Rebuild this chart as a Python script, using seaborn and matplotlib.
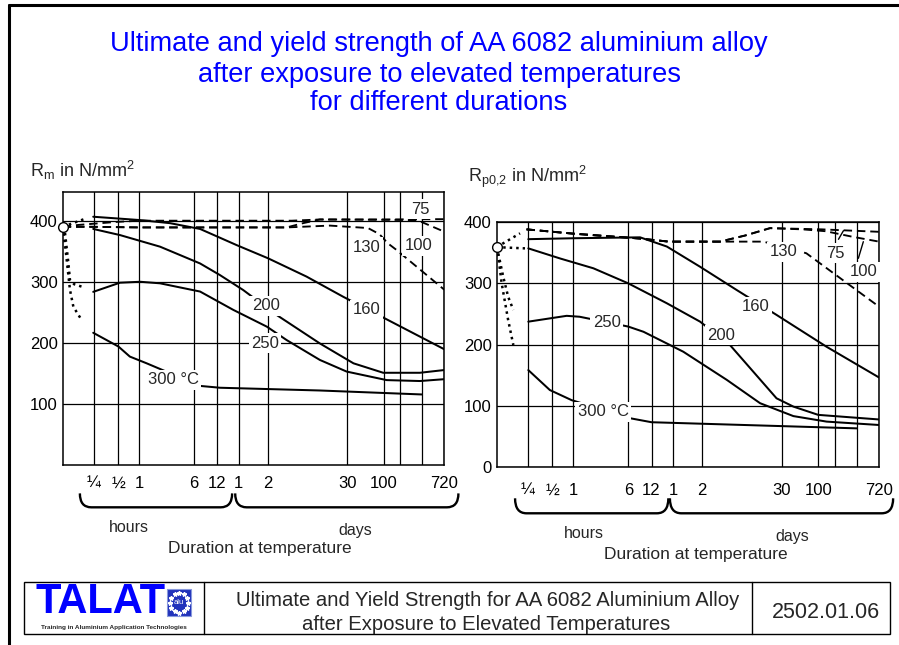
import numpy as np
import pandas as pd
import matplotlib
matplotlib.use("Agg")
import matplotlib.pyplot as plt
import seaborn as sns
from matplotlib.path import Path
from matplotlib.patches import PathPatch, Rectangle
from matplotlib.lines import Line2D
from matplotlib.transforms import blended_transform_factory

# ---------------------------------------------------------------------------
# Duration axis: positions of the grid lines (0 = start of exposure, 100 = 720 days)
TICK_POS = [8.1, 14.55, 20.05, 34.45, 40.5, 46.1, 53.7, 74.6, 84.15, 88.4, 94.2, 100]
TICK_LABELS = ["\u00bc", "\u00bd", "1", "6", "12", "1", "2", "30", "100", "", "", "720"]

# ---------------------------------------------------------------------------
# Ultimate strength Rm (N/mm2)
RM_START = 390

RM_75_POS = [0, 4, 8, 14, 20, 40, 60, 67.4, 85, 93.6, 100]
RM_75 = [390, 393, 395, 398, 400, 400, 400, 402, 402, 402.5, 402.5]
RM_100_POS = [0, 8, 20, 36, 58.7, 63, 67.4, 85, 92, 94, 100]
RM_100 = [390, 390, 389, 389, 389, 396, 402, 401.5, 401, 398, 382]
RM_130_POS = [0, 8, 20, 36, 58.7, 70, 80, 83, 85.2, 87.5, 100]
RM_130 = [390, 390, 389, 389, 389, 392, 388, 378, 363, 352, 287]
RM_160_POS = [8.0, 20.3, 28.1, 36.0, 45.6, 53.8, 63.9, 73.5, 84.9, 100]
RM_160 = [406.5, 401, 396, 386.5, 360, 338.5, 308.5, 275.5, 238.5, 189.5]
RM_200_POS = [8.0, 15.0, 25.5, 36.0, 41.2, 47.3, 56.1, 67.4, 76.2, 84.0, 93.6, 100]
RM_200 = [386.5, 376.5, 357.5, 330, 311, 286.5, 245.5, 199, 166.5, 151, 151, 155.5]
RM_250_POS = [8.0, 15.0, 20.3, 25.5, 36.0, 44.7, 53.5, 58.7, 67.4, 74.4, 84.9, 93.6, 100]
RM_250 = [283.5, 298.5, 300, 297.5, 284, 254, 226.5, 204.5, 172, 153, 139, 137.5, 140.5]
RM_300_POS = [8.0, 14.6, 17.6, 22.0, 36.0, 41.2, 67.4, 94.1]
RM_300 = [216.5, 194, 177.5, 166.5, 129.5, 126.5, 122, 115.5]

# short-time transitions from the initial state
RM_160_EARLY_POS = [0, 5.8]
RM_160_EARLY = [390, 403]
RM_250_EARLY_POS = [0, 0.6, 1.5, 1.9, 3.0, 5.0]
RM_250_EARLY = [390, 380, 330, 303, 296, 292]
RM_300_EARLY_POS = [0, 0.8, 1.9, 2.8, 5.0]
RM_300_EARLY = [390, 350, 287, 259, 237]

# ---------------------------------------------------------------------------
# Yield strength Rp0,2 (N/mm2)
RP_START = 359

RP_75_POS = [7.8, 20, 37.5, 45, 58.4, 65, 71.5, 85, 100]
RP_75 = [388, 381, 373, 368, 368, 378, 390, 388, 384]
RP_100_POS = [7.8, 20, 37.5, 45, 58.4, 65, 71.5, 80, 86, 93, 100]
RP_100 = [388, 381, 373, 368, 368, 378, 390, 388, 385, 376, 368]
RP_130_POS = [7.8, 20, 37.5, 45, 58.4, 69.7, 75, 81, 90.6, 100]
RP_130 = [388, 381, 373, 368, 368, 368, 360, 349, 305, 262]
RP_160_POS = [8.27, 20, 37.5, 44.5, 53.2, 62.8, 73.2, 86.3, 100]
RP_160 = [372, 373.5, 375, 360, 327, 289, 248.5, 196.5, 146.5]
RP_200_POS = [8.27, 16.6, 25.3, 34.4, 44.5, 53.2, 61.0, 73.2, 77.6, 84.1, 100]
RP_200 = [357, 340.5, 324.5, 300, 267.5, 237.5, 199.5, 112.5, 99, 85.5, 78]
RP_250_POS = [8.27, 18.3, 21.7, 34.4, 38.4, 48.8, 60.2, 68.9, 77.6, 86.3, 100]
RP_250 = [237.5, 247, 245.5, 229.5, 221, 188.5, 142.5, 104.5, 83.5, 74.5, 69]
RP_300_POS = [8.27, 13.9, 19.6, 34.9, 40.5, 94.2]
RP_300 = [158.5, 126, 109.5, 80, 73.5, 63.5]

RP_75_EARLY_POS = [0, 6.1]
RP_75_EARLY = [359, 381.5]
RP_200_EARLY_POS = [0, 7.4]
RP_200_EARLY = [359, 357]
RP_250_EARLY_POS = [0, 0.4, 1.7, 3.0, 4.35]
RP_250_EARLY = [359, 349, 311, 278, 256.5]
RP_300_EARLY_POS = [0, 0.5, 1.3, 3.0, 4.35]
RP_300_EARLY = [359, 340, 300, 240, 199.5]

# ---------------------------------------------------------------------------
sns.set_style("white")
plt.rcParams["font.family"] = ["Liberation Sans", "DejaVu Sans"]
plt.rcParams["mathtext.fontset"] = "custom"
plt.rcParams["mathtext.rm"] = "Liberation Sans"

W, H = 899, 645
fig = plt.figure(figsize=(W / 100, H / 100), dpi=100)


def fx(px):
    return px / W


def fy(py):
    return 1 - py / H


BLUE = "#0000ff"
SOLID = dict(linestyle="-", linewidth=1.45)
DASHED = dict(linestyle=(0, (4.5, 2.6)), linewidth=1.35)
DOTTED = dict(linestyle=(0, (1, 1.6)), linewidth=1.8)


def curve(ax, pos, vals, style):
    df = pd.DataFrame({"pos": pos, "val": vals})
    sns.lineplot(data=df, x="pos", y="val", ax=ax, color="black", sort=False,
                 estimator=None, legend=False, zorder=3, **style)


def label(ax, x, y, s):
    ax.text(x, y, s, ha="center", va="center", fontsize=12, zorder=5,
            bbox=dict(boxstyle="square,pad=0.15", fc="white", ec="none"))


def brace(ax, x0, x1, ytop, ybot, r=3.0):
    tr = blended_transform_factory(ax.transData, ax.transAxes)
    verts = [(x0, ytop), (x0, ybot), (x0 + r, ybot), (x1 - r, ybot),
             (x1, ybot), (x1, ytop)]
    codes = [Path.MOVETO, Path.CURVE3, Path.CURVE3, Path.LINETO,
             Path.CURVE3, Path.CURVE3]
    ax.add_patch(PathPatch(Path(verts, codes), transform=tr, fill=False,
                           lw=1.7, color="black", clip_on=False))


def setup(ax, ymax, yticks, xpad):
    ax.set_xlim(0, 100)
    ax.set_ylim(0, ymax)
    ax.set_xticks(TICK_POS)
    ax.set_xticklabels(TICK_LABELS)
    ax.set_yticks(yticks)
    ax.set_yticklabels([str(v) for v in yticks])
    ax.tick_params(axis="both", length=0, labelsize=12, colors="black")
    ax.tick_params(axis="x", pad=xpad)
    ax.tick_params(axis="y", pad=3.5)
    ax.grid(True, color="black", linewidth=0.9)
    ax.set_axisbelow(True)
    for sp in ax.spines.values():
        sp.set_color("black")
        sp.set_linewidth(1.1)
    ax.set_xlabel("")
    ax.set_ylabel("")


# ---------------------------------------------------------------------------
# Left panel: Rm
ax1 = fig.add_axes([fx(62.7), fy(465), 381.6 / W, 273 / H])
for pos, vals in [(RM_75_POS, RM_75), (RM_100_POS, RM_100), (RM_130_POS, RM_130)]:
    curve(ax1, pos, vals, DASHED)
for pos, vals in [(RM_160_POS, RM_160), (RM_200_POS, RM_200),
                  (RM_250_POS, RM_250), (RM_300_POS, RM_300)]:
    curve(ax1, pos, vals, SOLID)
for pos, vals in [(RM_160_EARLY_POS, RM_160_EARLY), (RM_250_EARLY_POS, RM_250_EARLY),
                  (RM_300_EARLY_POS, RM_300_EARLY)]:
    curve(ax1, pos, vals, DOTTED)
ax1.plot([0], [RM_START], marker="o", ms=7, mfc="white", mec="black", mew=1.0,
         clip_on=False, zorder=6)
setup(ax1, 447, [100, 200, 300, 400], 8)
for s, x, y in [("75", 93.6, 418.7), ("130", 79.7, 356.4), ("100", 93.2, 358.6),
                ("200", 53.2, 260.9), ("160", 79.7, 253.8), ("250", 53.0, 199.2),
                ("300 \u00b0C", 29.0, 139.2)]:
    label(ax1, x, y, s)
brace(ax1, 4.5, 44.4, -0.104, -0.155)
brace(ax1, 45.2, 103.7, -0.104, -0.155)

# ---------------------------------------------------------------------------
# Right panel: Rp0,2
ax2 = fig.add_axes([fx(496.7), fy(467.3), 382.3 / W, 245.3 / H])
for pos, vals in [(RP_75_POS, RP_75), (RP_100_POS, RP_100), (RP_130_POS, RP_130)]:
    curve(ax2, pos, vals, DASHED)
for pos, vals in [(RP_160_POS, RP_160), (RP_200_POS, RP_200),
                  (RP_250_POS, RP_250), (RP_300_POS, RP_300)]:
    curve(ax2, pos, vals, SOLID)
for pos, vals in [(RP_75_EARLY_POS, RP_75_EARLY), (RP_200_EARLY_POS, RP_200_EARLY),
                  (RP_250_EARLY_POS, RP_250_EARLY), (RP_300_EARLY_POS, RP_300_EARLY)]:
    curve(ax2, pos, vals, DOTTED)
ax2.plot([0], [RP_START], marker="o", ms=7, mfc="white", mec="black", mew=1.0,
         clip_on=False, zorder=6)
setup(ax2, 400, [0, 100, 200, 300, 400], 11)
for s, x, y in [("130", 75.0, 351.6), ("75", 88.5, 349.0), ("100", 95.9, 319.0),
                ("160", 67.6, 261.9), ("250", 28.8, 235.8), ("200", 58.8, 215.7),
                ("300 \u00b0C", 27.9, 90.7)]:
    label(ax2, x, y, s)
# leader ticks from the 75 and 100 labels to their curves
ax2.plot([89.4, 90.7], [371.8, 385.8], color="black", lw=1.0, zorder=4)
ax2.plot([94.6, 95.9], [340.8, 367.9], color="black", lw=1.0, zorder=4)
brace(ax2, 4.8, 44.9, -0.1264, -0.1875)
brace(ax2, 45.3, 103.7, -0.1264, -0.1875)

# ---------------------------------------------------------------------------
# Axis captions
fig.text(fx(30), fy(177), r"R$_{\mathregular{m}}$ in N/mm$^{\mathregular{2}}$",
         fontsize=13, ha="left", va="baseline")
fig.text(fx(468), fy(182), r"R$_{\mathregular{p0{,}2}}$ in N/mm$^{\mathregular{2}}$",
         fontsize=13, ha="left", va="baseline")
for (x, y, s, fs) in [(129, 528, "hours", 11.5), (355, 530, "days", 11.5),
                      (260, 548, "Duration at temperature", 12.5),
                      (584, 534, "hours", 11.5), (792, 537, "days", 11.5),
                      (696, 554, "Duration at temperature", 12.5)]:
    fig.text(fx(x), fy(y), s, fontsize=fs, ha="center", va="center")

# Title
for y, s in [(44, "Ultimate and yield strength of AA 6082 aluminium alloy"),
             (75, "after exposure to elevated temperatures"),
             (103, "for different durations")]:
    fig.text(fx(439), fy(y), s, fontsize=19.6, color=BLUE, ha="center", va="center")

# Page frame (top and left edges)
fig.add_artist(Line2D([fx(9), fx(9)], [fy(5), fy(645)], color="black", lw=2.2))
fig.add_artist(Line2D([fx(9), fx(899)], [fy(5), fy(5)], color="black", lw=2.2))

# Footer block
fig.add_artist(Rectangle((fx(24), fy(634)), (890 - 24) / W, (634 - 582) / H,
                         fill=False, ec="black", lw=1.0))
for xd in (204, 752):
    fig.add_artist(Line2D([fx(xd), fx(xd)], [fy(582), fy(634)], color="black", lw=1.0))
fig.text(fx(35), fy(602), "TALAT", fontsize=30, fontweight="bold", color=BLUE,
         ha="left", va="center")
fig.add_artist(Rectangle((fx(167), fy(616)), 24 / W, 27 / H, fc="#2233bb",
                         ec="#8899dd", lw=0.8))
ang = np.linspace(0, 2 * np.pi, 12, endpoint=False)
fig.add_artist(Line2D(fx(179 + 9 * np.cos(ang)), fy(602.5 + 10 * np.sin(ang)),
                      linestyle="none", marker="*", ms=3.2, mfc="white", mec="white"))
fig.text(fx(179), fy(603), "alu", fontsize=5.5, color="white", ha="center", va="center")
fig.text(fx(114), fy(627.5), "Training in Aluminium Application Technologies",
         fontsize=4.6, fontweight="bold", ha="center", va="center")
fig.text(fx(488), fy(601), "Ultimate and Yield Strength for AA 6082 Aluminium Alloy",
         fontsize=14.6, ha="center", va="center")
fig.text(fx(486), fy(624), "after Exposure to Elevated Temperatures",
         fontsize=14.6, ha="center", va="center")
fig.text(fx(826), fy(613), "2502.01.06", fontsize=15.5, ha="center", va="center")

fig.savefig("out.png", dpi=100)
